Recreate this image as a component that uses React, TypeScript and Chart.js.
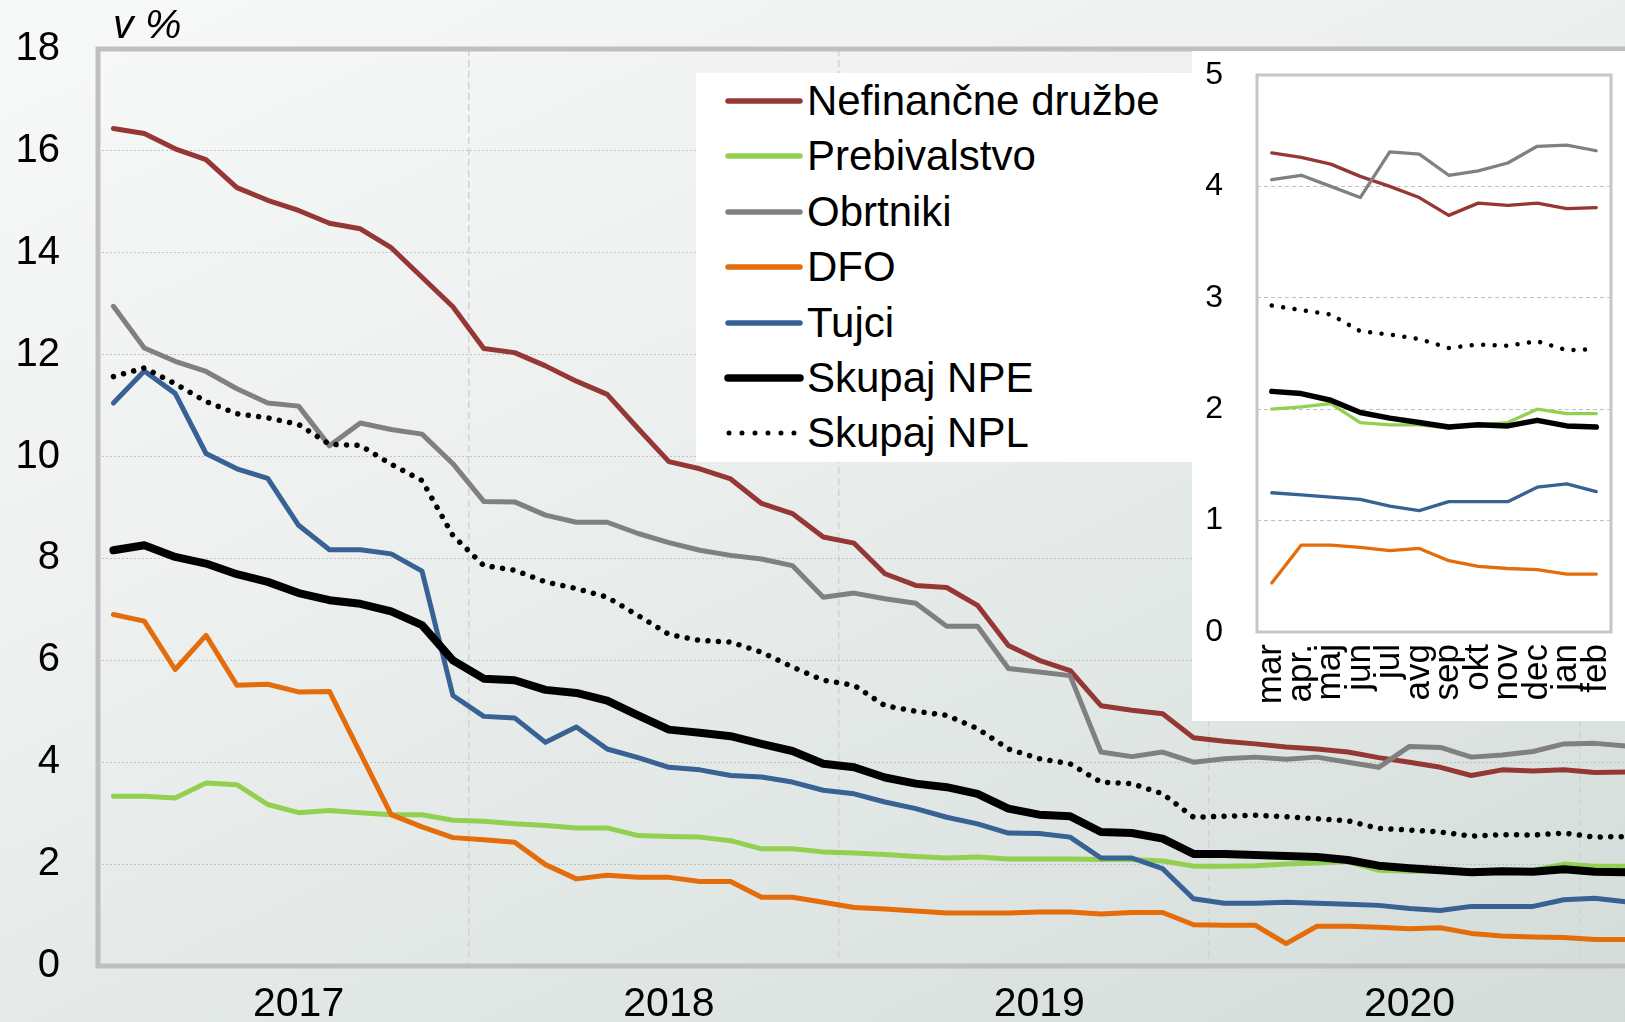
import React, { useEffect, useRef } from 'react';
import { Chart, registerables } from 'chart.js';

Chart.register(...registerables);

const FONT = '"Liberation Sans", Arial, Helvetica, sans-serif';

// ---- data ----
const mainCategories = [
  '2017-01', '2017-02', '2017-03', '2017-04', '2017-05', '2017-06', '2017-07', '2017-08', '2017-09', '2017-10', '2017-11', '2017-12',
  '2018-01', '2018-02', '2018-03', '2018-04', '2018-05', '2018-06', '2018-07', '2018-08', '2018-09', '2018-10', '2018-11', '2018-12',
  '2019-01', '2019-02', '2019-03', '2019-04', '2019-05', '2019-06', '2019-07', '2019-08', '2019-09', '2019-10', '2019-11', '2019-12',
  '2020-01', '2020-02', '2020-03', '2020-04', '2020-05', '2020-06', '2020-07', '2020-08', '2020-09', '2020-10', '2020-11', '2020-12',
  '2021-01', '2021-02',
];

const nefinancneDruzbe = [
  16.44, 16.34, 16.04, 15.83, 15.28, 15.03, 14.83, 14.58, 14.47, 14.10, 13.52, 12.94,
  12.12, 12.04, 11.78, 11.48, 11.22, 10.55, 9.90, 9.76, 9.56, 9.08, 8.88, 8.42,
  8.30, 7.70, 7.47, 7.43, 7.08, 6.29, 6.00, 5.80, 5.11, 5.02, 4.95, 4.48,
  4.41, 4.36, 4.30, 4.26, 4.20, 4.09, 4.00, 3.90, 3.74, 3.85, 3.83, 3.85,
  3.80, 3.81,
];

const prebivalstvo = [
  3.33, 3.33, 3.30, 3.59, 3.56, 3.17, 3.01, 3.05, 3.01, 2.97, 2.97, 2.86,
  2.84, 2.79, 2.76, 2.71, 2.71, 2.56, 2.54, 2.53, 2.46, 2.30, 2.30, 2.24,
  2.22, 2.19, 2.15, 2.12, 2.14, 2.10, 2.10, 2.10, 2.09, 2.09, 2.06, 1.96,
  1.96, 1.97, 2.00, 2.02, 2.05, 1.88, 1.86, 1.86, 1.83, 1.86, 1.88, 2.00,
  1.96, 1.96,
];

const obrtniki = [
  12.95, 12.13, 11.87, 11.67, 11.33, 11.05, 10.99, 10.21, 10.66, 10.53, 10.44, 9.86,
  9.12, 9.11, 8.85, 8.71, 8.71, 8.49, 8.31, 8.16, 8.06, 7.99, 7.86, 7.24,
  7.32, 7.21, 7.12, 6.67, 6.67, 5.84, 5.77, 5.70, 4.20, 4.11, 4.20, 4.00,
  4.07, 4.10, 4.06, 4.10, 4.00, 3.90, 4.31, 4.29, 4.10, 4.14, 4.21, 4.36,
  4.37, 4.32,
];

const dfo = [
  6.90, 6.77, 5.82, 6.49, 5.51, 5.53, 5.38, 5.39, 4.18, 2.97, 2.73, 2.52,
  2.48, 2.43, 1.99, 1.71, 1.78, 1.74, 1.74, 1.66, 1.66, 1.35, 1.35, 1.25,
  1.15, 1.12, 1.08, 1.04, 1.04, 1.04, 1.06, 1.06, 1.02, 1.05, 1.05, 0.81,
  0.80, 0.80, 0.44, 0.78, 0.78, 0.76, 0.73, 0.75, 0.64, 0.59, 0.57, 0.56,
  0.52, 0.52,
];

const tujci = [
  11.05, 11.68, 11.24, 10.06, 9.76, 9.57, 8.65, 8.17, 8.17, 8.09, 7.75, 5.31,
  4.90, 4.87, 4.39, 4.69, 4.26, 4.09, 3.90, 3.85, 3.74, 3.71, 3.61, 3.45,
  3.38, 3.22, 3.09, 2.92, 2.79, 2.61, 2.60, 2.53, 2.12, 2.12, 1.91, 1.32,
  1.23, 1.23, 1.25, 1.23, 1.21, 1.19, 1.13, 1.09, 1.17, 1.17, 1.17, 1.30,
  1.33, 1.26,
];

const skupajNPE = [
  8.16, 8.26, 8.03, 7.90, 7.69, 7.54, 7.32, 7.18, 7.11, 6.96, 6.69, 6.00,
  5.64, 5.61, 5.42, 5.36, 5.21, 4.92, 4.64, 4.58, 4.51, 4.36, 4.22, 3.97,
  3.90, 3.70, 3.58, 3.51, 3.38, 3.09, 2.97, 2.94, 2.63, 2.61, 2.50, 2.20,
  2.20, 2.18, 2.16, 2.14, 2.08, 1.97, 1.92, 1.88, 1.84, 1.86, 1.85, 1.90,
  1.85, 1.84,
];

const skupajNPL = [
  11.57, 11.74, 11.43, 11.08, 10.84, 10.76, 10.63, 10.24, 10.22, 9.85, 9.53, 8.45,
  7.86, 7.77, 7.54, 7.41, 7.24, 6.88, 6.51, 6.39, 6.36, 6.16, 5.87, 5.61,
  5.51, 5.11, 5.00, 4.92, 4.66, 4.26, 4.07, 3.97, 3.61, 3.58, 3.38, 2.92,
  2.94, 2.96, 2.93, 2.89, 2.85, 2.70, 2.67, 2.63, 2.55, 2.58, 2.57, 2.61,
  2.53, 2.54,
];

const insetCategories = ['mar', 'apr.', 'maj', 'jun', 'jul', 'avg', 'sep', 'okt', 'nov', 'dec', 'jan', 'feb'];

const mainYTicks = [0, 2, 4, 6, 8, 10, 12, 14, 16, 18];
const insetYTicks = [0, 1, 2, 3, 4, 5];

const seriesNames = ['Nefinančne družbe', 'Prebivalstvo', 'Obrtniki', 'DFO', 'Tujci', 'Skupaj NPE', 'Skupaj NPL'];
const seriesData = [nefinancneDruzbe, prebivalstvo, obrtniki, dfo, tujci, skupajNPE, skupajNPL];
const seriesColors = ['#953735', '#92d050', '#808080', '#e46c0a', '#386194', '#000000', '#000000'];
const seriesKinds = ['line', 'line', 'line', 'line', 'line', 'thick', 'dotted'];

// ---- styles ----
const TRANSPARENT = 'rgba(0,0,0,0)';

const framePlugin = {
  id: 'frame',
  beforeDatasetsDraw(chart: any, _args: any, opts: any) {
    const { ctx, chartArea: a } = chart;
    ctx.save();
    ctx.strokeStyle = opts.color;
    ctx.lineWidth = opts.width;
    ctx.strokeRect(a.left, a.top, a.right - a.left, a.bottom - a.top);
    ctx.restore();
  },
};

function buildDatasets(data: number[][], scale: 'main' | 'inset') {
  return seriesNames.map((name, i) => {
    const kind = seriesKinds[i];
    const base = scale === 'main' ? 5 : 3.3;
    const width = kind === 'thick' ? (scale === 'main' ? 8 : 5.5) : kind === 'dotted' ? (scale === 'main' ? 5.5 : 4.5) : base;
    return {
      label: name,
      data: data[i],
      borderColor: seriesColors[i],
      backgroundColor: seriesColors[i],
      borderWidth: width,
      borderDash: kind === 'dotted' ? [0.001, scale === 'main' ? 10.5 : 11.5] : [],
      borderCapStyle: 'round',
      borderJoinStyle: 'round',
      pointRadius: 0,
      pointHoverRadius: 0,
      tension: 0,
      fill: false,
      order: seriesNames.length - i,
    };
  });
}

const fixX = (height: number) => (s: any) => {
  s.height = height;
  s.paddingLeft = 0;
  s.paddingRight = 0;
};

const fixY = (width: number) => (s: any) => {
  s.width = width;
  s.paddingTop = 0;
  s.paddingBottom = 0;
};

export default function App() {
  const mainRef = useRef<HTMLCanvasElement | null>(null);
  const insetRef = useRef<HTMLCanvasElement | null>(null);

  useEffect(() => {
    if (!mainRef.current || !insetRef.current) return;

    const main = new Chart(mainRef.current, {
      type: 'line',
      data: { labels: mainCategories, datasets: buildDatasets(seriesData, 'main') as any },
      plugins: [framePlugin],
      options: {
        responsive: false,
        maintainAspectRatio: false,
        animation: false,
        events: [],
        layout: { padding: { top: 49, right: 19, left: 0, bottom: 0 } },
        plugins: {
          legend: { display: false },
          tooltip: { enabled: false },
          frame: { color: '#bfbfbf', width: 5 },
        } as any,
        scales: {
          x: {
            type: 'category',
            offset: true,
            grid: {
              offset: true,
              drawTicks: false,
              lineWidth: 1.5,
              color: (c: any) =>
                c.index !== undefined && c.index > 0 && mainCategories[c.index].endsWith('-01') ? '#d2d4d4' : TRANSPARENT,
            },
            border: { display: false, dash: [7, 4] },
            ticks: {
              autoSkip: false,
              maxRotation: 0,
              minRotation: 0,
              padding: 14,
              color: '#000',
              font: { family: FONT, size: 41 },
              callback: (_v: any, i: number) => (mainCategories[i].endsWith('-07') ? mainCategories[i].slice(0, 4) : ''),
            },
            afterFit: fixX(56),
          },
          y: {
            type: 'linear',
            min: mainYTicks[0],
            max: mainYTicks[mainYTicks.length - 1],
            afterBuildTicks: (s: any) => {
              s.ticks = mainYTicks.map((v) => ({ value: v }));
            },
            grid: {
              drawTicks: false,
              lineWidth: 1,
              color: (c: any) =>
                c.tick && (c.tick.value === mainYTicks[0] || c.tick.value === mainYTicks[mainYTicks.length - 1])
                  ? TRANSPARENT
                  : '#c2c4c4',
            },
            border: { display: false, dash: [2, 2] },
            ticks: {
              padding: 38,
              color: '#000',
              font: { family: FONT, size: 40 },
            },
            afterFit: fixY(98),
          },
        },
      } as any,
    });

    const inset = new Chart(insetRef.current, {
      type: 'line',
      data: { labels: insetCategories, datasets: buildDatasets(seriesData.map((d) => d.slice(-12)), 'inset') as any },
      plugins: [framePlugin],
      options: {
        responsive: false,
        maintainAspectRatio: false,
        animation: false,
        events: [],
        layout: { padding: { top: 24, right: 14, left: 0, bottom: 0 } },
        plugins: {
          legend: { display: false },
          tooltip: { enabled: false },
          frame: { color: '#c6c6c6', width: 3 },
        } as any,
        scales: {
          x: {
            type: 'category',
            offset: true,
            grid: { display: false, drawTicks: false },
            border: { display: false },
            ticks: {
              autoSkip: false,
              maxRotation: 90,
              minRotation: 90,
              padding: 12,
              color: '#000',
              font: { family: FONT, size: 35 },
            },
            afterFit: fixX(89),
          },
          y: {
            type: 'linear',
            min: insetYTicks[0],
            max: insetYTicks[insetYTicks.length - 1],
            afterBuildTicks: (s: any) => {
              s.ticks = insetYTicks.map((v) => ({ value: v }));
            },
            grid: {
              drawTicks: false,
              lineWidth: 1,
              color: (c: any) =>
                c.tick && (c.tick.value === insetYTicks[0] || c.tick.value === insetYTicks[insetYTicks.length - 1])
                  ? TRANSPARENT
                  : '#c0c0c0',
            },
            border: { display: false, dash: [4, 3] },
            ticks: {
              padding: 34,
              color: '#000',
              font: { family: FONT, size: 32 },
            },
            afterFit: fixY(65),
          },
        },
      } as any,
    });

    return () => {
      main.destroy();
      inset.destroy();
    };
  }, []);

  const legendRowTop = 28;
  const legendRowStep = 55.4;

  return (
    <div
      style={{
        position: 'absolute',
        left: 0,
        top: 0,
        width: 1625,
        height: 1022,
        overflow: 'hidden',
        background: 'linear-gradient(155deg, #f8f9f9 0%, #eef1f0 35%, #e2e8e6 65%, #d3dcd9 100%)',
        fontFamily: FONT,
        color: '#000',
      }}
    >
      <canvas
        ref={mainRef}
        width={1660}
        height={1022}
        style={{ position: 'absolute', left: 0, top: 0, width: 1660, height: 1022 }}
      />
      <div
        style={{
          position: 'absolute',
          left: 113,
          top: 4,
          fontSize: 41,
          lineHeight: '41px',
          fontStyle: 'italic',
          whiteSpace: 'nowrap',
        }}
      >
        v %
      </div>
      <div
        style={{
          position: 'absolute',
          left: 696,
          top: 73,
          width: 496,
          height: 389,
          background: '#ffffff',
        }}
      >
        {seriesNames.map((name, i) => {
          const kind = seriesKinds[i];
          const cy = legendRowTop + i * legendRowStep;
          return (
            <div key={name}>
              <svg
                width={84}
                height={20}
                style={{ position: 'absolute', left: 26, top: cy - 10 }}
              >
                <line
                  x1={kind === 'dotted' ? 7 : 6}
                  y1={10}
                  x2={kind === 'dotted' ? 72 : 78}
                  y2={10}
                  stroke={seriesColors[i]}
                  strokeWidth={kind === 'thick' ? 7.5 : kind === 'dotted' ? 5 : 5.5}
                  strokeLinecap="round"
                  strokeDasharray={kind === 'dotted' ? '0.001 12.99' : undefined}
                />
              </svg>
              <div
                style={{
                  position: 'absolute',
                  left: 111,
                  top: cy - 21,
                  fontSize: 42,
                  lineHeight: '42px',
                  whiteSpace: 'nowrap',
                }}
              >
                {name}
              </div>
            </div>
          );
        })}
      </div>
      <div
        style={{
          position: 'absolute',
          left: 1192,
          top: 51,
          width: 433,
          height: 670,
          background: '#ffffff',
        }}
      >
        <canvas
          ref={insetRef}
          width={433}
          height={670}
          style={{ position: 'absolute', left: 0, top: 0, width: 433, height: 670 }}
        />
      </div>
    </div>
  );
}
